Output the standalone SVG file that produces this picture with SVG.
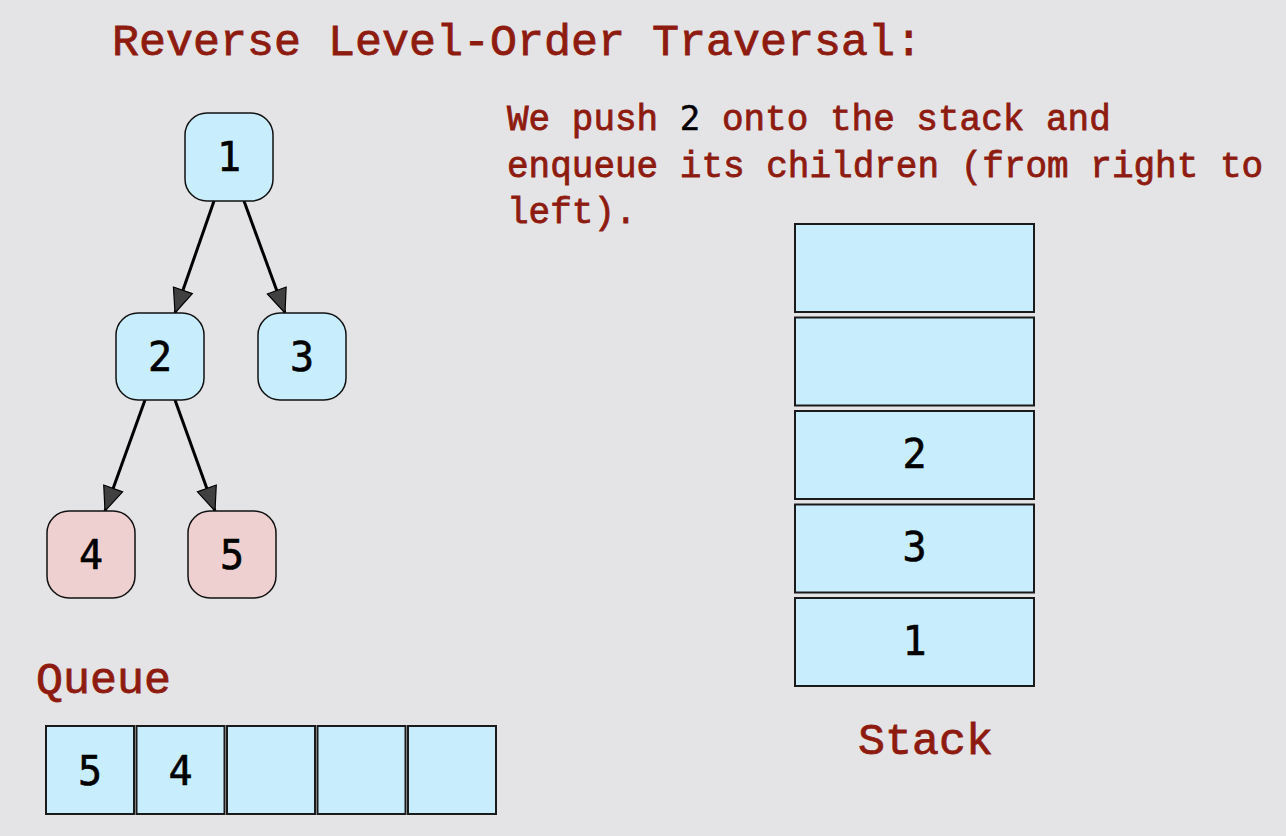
<svg xmlns="http://www.w3.org/2000/svg" width="1286" height="836" viewBox="0 0 1286 836">
<defs>
<style>
.lbl{font-family:"Liberation Mono","Courier New",monospace;fill:#8E1B10;stroke:#8E1B10;stroke-width:0.8;}
.num{font-family:"DejaVu Sans Mono",monospace;fill:#000;stroke:#000;stroke-width:0.6;text-anchor:middle;font-size:40px;}
.nb{fill:#C8EEFD;stroke:#111;stroke-width:1.5;}
.np{fill:#EFD0D0;stroke:#111;stroke-width:1.5;}
.box{fill:#C8EEFD;stroke:#1a1a1a;stroke-width:2;}
.edge{stroke:#000;stroke-width:3;fill:none;marker-end:url(#arr);}
</style>
<marker id="arr" markerUnits="userSpaceOnUse" viewBox="0 0 26 24" refX="25" refY="12" markerWidth="26" markerHeight="24" orient="auto">
<path d="M1,2 L25,12 L1,22 z" fill="#404040" stroke="#000" stroke-width="1.2"/>
</marker>
</defs>
<rect width="1286" height="836" fill="#E4E4E6"/>
<text class="lbl" x="112" y="55" font-size="45">Reverse Level-Order Traversal:</text>
<g id="description" class="lbl" font-size="36">
<text x="507" y="130">We push <tspan font-family="DejaVu Sans Mono, monospace" fill="#000" stroke="#000" stroke-width="0.5" font-size="34">2</tspan> onto the stack and</text>
<text x="507" y="177">enqueue its children (from right to</text>
<text x="507" y="223">left).</text>
</g>
<g id="connectors">
<line class="edge" x1="214" y1="201" x2="175" y2="313"/>
<line class="edge" x1="244" y1="201" x2="285" y2="313"/>
<line class="edge" x1="145" y1="400" x2="105" y2="511"/>
<line class="edge" x1="175" y1="400" x2="215" y2="511"/>
</g>
<g id="node1"><rect class="nb" x="185" y="113" width="88" height="88" rx="22"/><text class="num" x="229" y="171">1</text></g>
<g id="node2"><rect class="nb" x="116" y="313" width="88" height="87" rx="22"/><text class="num" x="160" y="371">2</text></g>
<g id="node3"><rect class="nb" x="258" y="313" width="88" height="87" rx="22"/><text class="num" x="302" y="371">3</text></g>
<g id="node4"><rect class="np" x="47" y="511" width="88" height="87" rx="22"/><text class="num" x="91" y="569">4</text></g>
<g id="node5"><rect class="np" x="188" y="511" width="88" height="87" rx="22"/><text class="num" x="232" y="569">5</text></g>
<text class="lbl" x="36" y="693" font-size="45">Queue</text>
<g id="queue">
<rect class="box" x="46" y="726" width="88" height="88"/>
<rect class="box" x="136.5" y="726" width="88" height="88"/>
<rect class="box" x="227" y="726" width="88" height="88"/>
<rect class="box" x="317.5" y="726" width="88" height="88"/>
<rect class="box" x="408" y="726" width="88" height="88"/>
<text class="num" x="90" y="785">5</text>
<text class="num" x="180.5" y="785">4</text>
</g>
<g id="stack">
<rect class="box" x="795" y="224" width="239" height="88"/>
<rect class="box" x="795" y="317.5" width="239" height="88"/>
<rect class="box" x="795" y="411" width="239" height="88"/>
<rect class="box" x="795" y="504.5" width="239" height="88"/>
<rect class="box" x="795" y="598" width="239" height="88"/>
<text class="num" x="914.5" y="468">2</text>
<text class="num" x="914.5" y="561">3</text>
<text class="num" x="914.5" y="655">1</text>
</g>
<text class="lbl" x="858" y="754" font-size="45">Stack</text>
</svg>
